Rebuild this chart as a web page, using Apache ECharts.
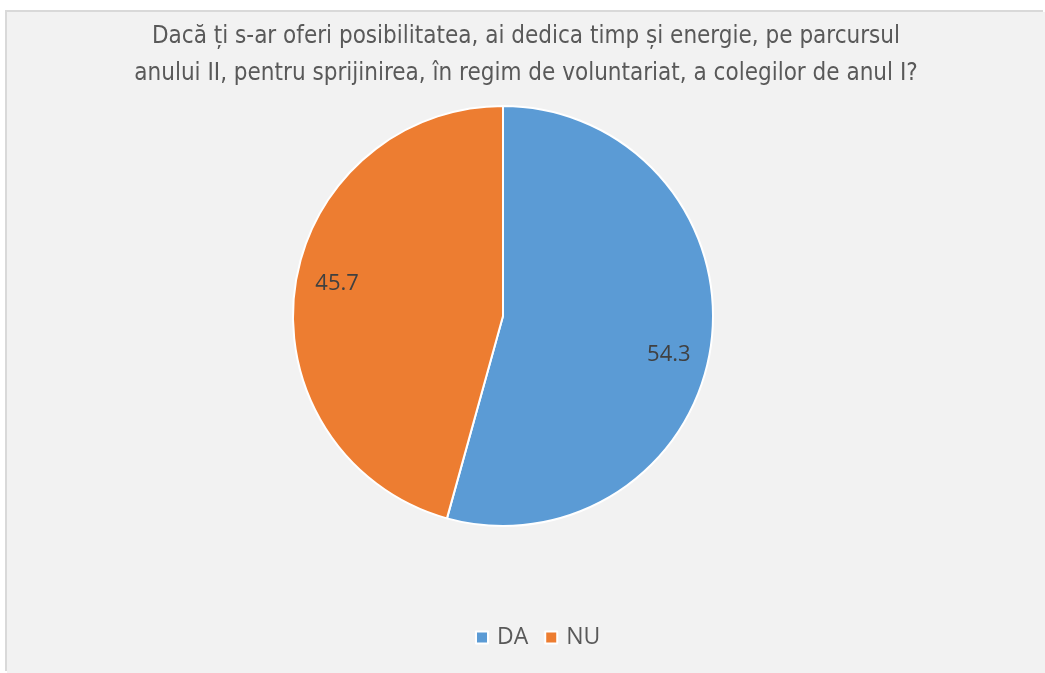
<!DOCTYPE html>
<html>
<head>
<meta charset="utf-8">
<script src="https://cdn.jsdelivr.net/npm/echarts@6/dist/echarts.min.js"></script>
<style>
  html, body { margin: 0; padding: 0; background: #ffffff; }
  #main {
    position: absolute; left: 7px; top: 12px; width: 1038px; height: 661px;
    box-shadow: -2px -2px 0 #d9d9d9;
  }
</style>
</head>
<body>
<div id="main"></div>
<script>
// date
const categories = ['DA', 'NU'];
const values = [54.3, 45.7];
const colors = ['#5b9bd5', '#ed7d31'];
const titleText = 'Dacă ți s-ar oferi posibilitatea, ai dedica timp și energie, pe parcursul\nanului II, pentru sprijinirea, în regim de voluntariat, a colegilor de anul I?';

const pieCenter = [496, 304];
const chart = echarts.init(document.getElementById('main'));

chart.setOption({
  backgroundColor: '#f2f2f2',
  animation: false,
  title: {
    text: titleText,
    left: 'center',
    top: 1,
    textStyle: {
      fontFamily: '"Liberation Sans Narrow", "DejaVu Sans Condensed", sans-serif',
      fontSize: 24,
      fontWeight: 'normal',
      color: '#595959',
      lineHeight: 37
    }
  },
  legend: {
    data: categories,
    left: 463,
    top: 609,
    icon: 'rect',
    itemWidth: 12,
    itemHeight: 12,
    itemGap: 16,
    textStyle: { fontFamily: '"Open Sans", sans-serif', fontSize: 23, color: '#595959', padding: [0, 0, 0, 4] }
  },
  series: [{
    type: 'pie',
    center: pieCenter,
    radius: 210,
    startAngle: 90,
    clockwise: true,
    color: colors,
    itemStyle: { borderColor: '#ffffff', borderWidth: 2 },
    label: {
      show: true,
      position: 'inside',
      formatter: p => p.value.toFixed(1),
      fontFamily: '"Open Sans", sans-serif',
      fontSize: 22,
      color: '#404040'
    },
    // scoate etichetele spre margine, ca in Excel
    labelLayout: params => {
      const r = params.labelRect;
      const lx = r.x + r.width / 2, ly = r.y + r.height / 2;
      const extra = params.dataIndex === 0 ? 16 : -10;
      return { dx: (lx - pieCenter[0]) * 0.55, dy: (ly - pieCenter[1]) * 0.55 + extra };
    },
    data: categories.map((c, i) => ({ name: c, value: values[i] }))
  }]
});
</script>
</body>
</html>
